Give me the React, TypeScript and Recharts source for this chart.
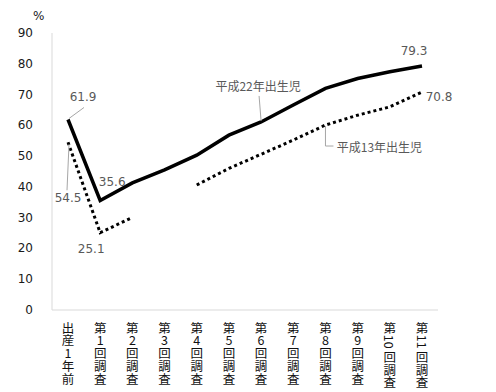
import React from 'react';
import { LineChart, Line, XAxis, YAxis } from 'recharts';

const categories = ['出産1年前', '第1回調査', '第2回調査', '第3回調査', '第4回調査', '第5回調査', '第6回調査', '第7回調査', '第8回調査', '第9回調査', '第10回調査', '第11回調査'];
const h22Values = [61.9, 35.6, 41.3, 45.5, 50.3, 56.8, 61.1, 66.6, 72.0, 75.2, 77.4, 79.3];
const h13Values = [54.5, 25.1, 30.1, null, 40.6, 46.0, 50.6, 55.2, 60.1, 63.3, 66.0, 70.8];
const yTicks = [0, 10, 20, 30, 40, 50, 60, 70, 80, 90];

const data = categories.map((name, i) => ({ name, h22: h22Values[i], h13: h13Values[i] }));

const labelColor = '#595959';
const numFont = '"DejaVu Sans", Verdana, sans-serif';
const cjkFont = '"Noto Sans CJK JP", sans-serif';

const YTick = ({ y, payload }: any) => (
  <text x={33} y={y} textAnchor="end" dominantBaseline="central" fontFamily={numFont} fontSize={12} fill="#1a1a1a">
    {payload.value}
  </text>
);

// vertical stacked label, digit groups of 2+ are turned sideways
const XTick = ({ x, payload }: any) => {
  const tokens: string[] = String(payload.value).match(/\d+|./g) || [];
  let cy = 327;
  const parts: React.ReactNode[] = [];
  tokens.forEach((t, i) => {
    if (t.length > 1) {
      cy += 2;
      parts.push(
        <text key={i} transform={`translate(${x},${cy}) rotate(90)`} textAnchor="middle" dominantBaseline="central" fontFamily={cjkFont} fontSize={12.5} fill="#111">{t}</text>
      );
      cy += 14.5;
    } else {
      parts.push(
        <text key={i} x={x} y={cy} textAnchor="middle" dominantBaseline="central" fontFamily={cjkFont} fontSize={12.5} fill="#111">{t}</text>
      );
      cy += 12.8;
    }
  });
  return <g>{parts}</g>;
};

const numLabel = (x: number, y: number, v: number) => (
  <text x={x} y={y} textAnchor="middle" dominantBaseline="central" fontFamily={numFont} fontSize={12} fill={labelColor}>{v}</text>
);

const H22Dot = (props: any) => {
  const { cx, cy, index, value } = props;
  if (index === 0) {
    return (
      <g key={index}>
        <line x1={cx + 1} y1={cy - 1} x2={cx + 16} y2={cy - 12} stroke="#a6a6a6" strokeWidth={1} />
        {numLabel(cx + 15, cy - 22, value)}
      </g>
    );
  }
  if (index === 1) return <g key={index}>{numLabel(cx + 12, cy - 18, value)}</g>;
  if (index === 6) {
    return (
      <g key={index}>
        <line x1={cx - 2} y1={cy - 26} x2={cx} y2={cy - 1} stroke="#a6a6a6" strokeWidth={1} />
        <text x={cx - 3} y={cy - 36} textAnchor="middle" dominantBaseline="central" fontFamily={cjkFont} fontSize={12} fill={labelColor}>平成22年出生児</text>
      </g>
    );
  }
  if (index === 11) return <g key={index}>{numLabel(cx - 8, cy - 15, value)}</g>;
  return <g key={index} />;
};

const H13Dot = (props: any) => {
  const { cx, cy, index, value } = props;
  if (index === 0) {
    return (
      <g key={index}>
        <line x1={cx + 1} y1={cy + 2} x2={cx - 1} y2={cy + 48} stroke="#a6a6a6" strokeWidth={1} />
        {numLabel(cx, cy + 56, value)}
      </g>
    );
  }
  if (index === 1) return <g key={index}>{numLabel(cx - 9, cy + 16, value)}</g>;
  if (index === 8) {
    return (
      <g key={index}>
        <polyline points={`${cx},${cy + 1} ${cx},${cy + 21} ${cx + 8},${cy + 21}`} fill="none" stroke="#a6a6a6" strokeWidth={1} />
        <text x={cx + 54} y={cy + 21} textAnchor="middle" dominantBaseline="central" fontFamily={cjkFont} fontSize={12} fill={labelColor}>平成13年出生児</text>
      </g>
    );
  }
  if (index === 11) return <g key={index}>{numLabel(cx + 17, cy + 5, value)}</g>;
  return <g key={index} />;
};

export default function App() {
  return (
    <div style={{ position: 'absolute', left: 0, top: 0, width: 496, height: 392, background: '#fff' }}>
      <div style={{ position: 'absolute', left: 33, top: 9, fontFamily: numFont, fontSize: 12, color: '#1a1a1a' }}>%</div>
      <LineChart width={496} height={392} data={data} margin={{ top: 33, right: 58, left: 0, bottom: 0 }}>
        <XAxis
          dataKey="name"
          height={82}
          interval={0}
          padding={{ left: 16, right: 16 }}
          axisLine={{ stroke: '#d9d9d9' }}
          tickLine={false}
          tick={<XTick />}
        />
        <YAxis
          width={52}
          domain={[0, 90]}
          ticks={yTicks}
          axisLine={{ stroke: '#d9d9d9' }}
          tickLine={false}
          tick={<YTick />}
        />
        <Line dataKey="h22" stroke="#000" strokeWidth={3.5} dot={<H22Dot />} activeDot={false} isAnimationActive={false} />
        <Line dataKey="h13" stroke="#000" strokeWidth={3} strokeDasharray="3 3" dot={<H13Dot />} activeDot={false} isAnimationActive={false} />
      </LineChart>
    </div>
  );
}
